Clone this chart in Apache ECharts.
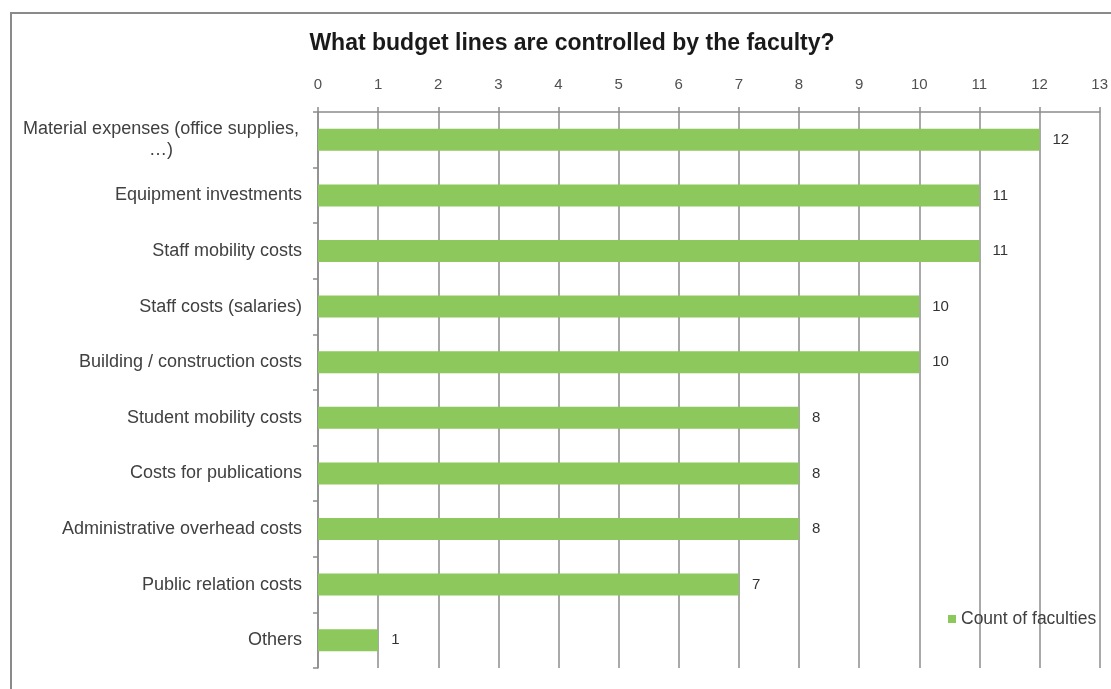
<!DOCTYPE html>
<html>
<head>
<meta charset="utf-8">
<script src="https://cdn.jsdelivr.net/npm/echarts@6/dist/echarts.min.js"></script>
<style>
  html, body { margin: 0; padding: 0; background: #fff; }
  #chart { width: 1111px; height: 689px; }
</style>
</head>
<body>
<div id="chart"></div>
<script>
// Budget lines controlled by the faculty, number of faculties per line
const categories = [
  'Material expenses (office supplies,\n…)',
  'Equipment investments',
  'Staff mobility costs',
  'Staff costs (salaries)',
  'Building / construction costs',
  'Student mobility costs',
  'Costs for publications',
  'Administrative overhead costs',
  'Public relation costs',
  'Others'
];
const counts = [12, 11, 11, 10, 10, 8, 8, 8, 7, 1];
const seriesName = 'Count of faculties';
const titleText = 'What budget lines are controlled by the faculty?';

const FONT = 'Arial, "Liberation Sans", sans-serif';
const GREEN = '#8cc85b';
const GRID_GREY = '#8c8c8c';

const chart = echarts.init(document.getElementById('chart'));

chart.setOption({
  backgroundColor: '#ffffff',
  animation: false,
  title: {
    text: titleText,
    left: 567,
    top: 27,
    textAlign: 'center',
    textStyle: { fontFamily: FONT, fontSize: 23, fontWeight: 'bold', color: '#1a1a1a' }
  },
  legend: {
    data: [seriesName],
    left: 943,
    top: 605,
    itemWidth: 8,
    itemHeight: 8,
    itemGap: 6,
    icon: 'rect',
    textStyle: { fontFamily: FONT, fontSize: 17.5, color: '#404040' }
  },
  grid: { left: 318, right: 11, top: 112, bottom: 21, containLabel: false },
  xAxis: {
    type: 'value',
    position: 'top',
    min: 0,
    max: 13,
    interval: 1,
    axisLine: { show: true, lineStyle: { color: GRID_GREY, width: 1.5 } },
    axisTick: { show: true, length: 5, lineStyle: { color: GRID_GREY, width: 1.5 } },
    axisLabel: { margin: 20, fontFamily: FONT, fontSize: 15, color: '#505050' },
    splitLine: { show: true, lineStyle: { color: GRID_GREY, width: 1.5 } }
  },
  yAxis: {
    type: 'category',
    inverse: true,
    data: categories,
    axisLine: { show: true, lineStyle: { color: GRID_GREY, width: 1.5 } },
    axisTick: { show: true, length: 5, lineStyle: { color: GRID_GREY, width: 1.5 } },
    axisLabel: {
      margin: 16,
      fontFamily: FONT,
      fontSize: 18,
      color: '#404040',
      lineHeight: 21,
      formatter: function (v) {
        if (v.indexOf('\n') >= 0) {
          return v.split('\n').map(function (line) { return '{c|' + line + '}'; }).join('\n');
        }
        return v;
      },
      rich: {
        c: { width: 282, align: 'center', fontFamily: FONT, fontSize: 18, color: '#404040', lineHeight: 21 }
      }
    }
  },
  series: [{
    name: seriesName,
    type: 'bar',
    data: counts,
    barWidth: 22,
    itemStyle: { color: GREEN },
    label: {
      show: true,
      position: 'right',
      distance: 13,
      fontFamily: FONT,
      fontSize: 15,
      color: '#333333'
    }
  }],
  graphic: [{
    type: 'rect',
    shape: { x: 11, y: 13, width: 1120, height: 700 },
    style: { fill: null, stroke: '#8a8a8a', lineWidth: 2 },
    silent: true
  }]
});
</script>
</body>
</html>
